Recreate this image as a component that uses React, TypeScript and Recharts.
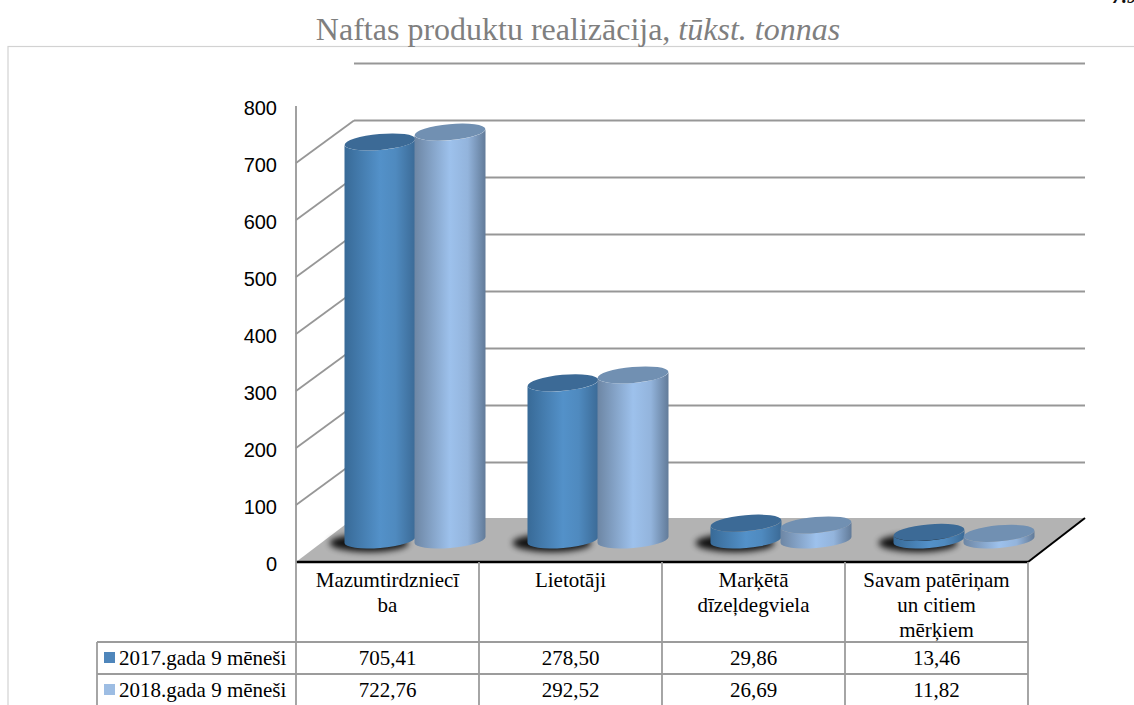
import { BarChart, Bar, XAxis, YAxis, CartesianGrid } from 'recharts'

const categories = ['Mazumtirdzniecība', 'Lietotāji', 'Marķētā dīzeļdegviela', 'Savam patēriņam un citiem mērķiem']
const categoryLines = [
  ['Mazumtirdzniecī', 'ba'],
  ['Lietotāji'],
  ['Marķētā', 'dīzeļdegviela'],
  ['Savam patēriņam', 'un citiem', 'mērķiem'],
]
const series2017 = [705.41, 278.5, 29.86, 13.46]
const series2018 = [722.76, 292.52, 26.69, 11.82]
const labels2017 = ['705,41', '278,50', '29,86', '13,46']
const labels2018 = ['722,76', '292,52', '26,69', '11,82']
const seriesNames = ['2017.gada 9 mēneši', '2018.gada 9 mēneši']
const yTicks = [0, 100, 200, 300, 400, 500, 600, 700, 800]

const data = categories.map((name, i) => ({
  name,
  y2017: series2017[i],
  y2018: series2018[i],
}))

const W = 1134
const H = 705
const FLOOR_Y = 562
const DEPTH_X = 58
const DEPTH_Y = 42.5
const BAND = 183
const LEFT = 296
const RIGHT = 1028
const SERIF = '"Liberation Serif", "Times New Roman", serif'
const TABLE_LINE = '#9c9c9c'
const WALL_LINE = '#979797'
const colors = { a: '#4f86bb', b: '#9dbde3' }

// one grid line: side wall diagonal plus the line on the back wall, the floor sits on the 0 line
const WallLine = ({ y1 }: any) => {
  if (y1 >= FLOOR_Y - 1) {
    return (
      <g>
        <polygon
          points={`${LEFT},${y1} ${RIGHT},${y1} ${RIGHT + DEPTH_X - 1},${y1 - 44} ${LEFT + DEPTH_X},${y1 - 44}`}
          fill="#b3b3b3"
        />
        <line x1={LEFT} y1={y1} x2={RIGHT} y2={y1} stroke="#000" strokeWidth={2.5} />
        <line x1={RIGHT} y1={y1} x2={RIGHT + DEPTH_X - 1} y2={y1 - 44} stroke="#000" strokeWidth={2} />
      </g>
    )
  }
  const isTop = y1 < 110
  return (
    <g>
      {!isTop && <line x1={LEFT} y1={y1} x2={LEFT + DEPTH_X} y2={y1 - DEPTH_Y} stroke={WALL_LINE} strokeWidth={1.8} />}
      <line x1={LEFT + DEPTH_X} y1={y1 - DEPTH_Y} x2={RIGHT + DEPTH_X - 1} y2={y1 - DEPTH_Y} stroke={WALL_LINE} strokeWidth={1.8} />
    </g>
  )
}

const Cylinder = ({ x, width, height, gradient, top, shadow }: any) => {
  const rx = width / 2 + 0.5
  const ry = 8
  const tilt = 3
  const cx = x + width / 2 + 27
  const baseY = FLOOR_Y - 22
  // the picture's perspective makes bars a little shorter than the front scale
  const topY = baseY - height * 0.99
  const body = `M${cx - rx},${topY + tilt} L${cx - rx},${baseY + tilt} A${rx},${ry} -5 0 0 ${cx + rx},${baseY - tilt} L${cx + rx},${topY - tilt} A${rx},${ry} -5 0 1 ${cx - rx},${topY + tilt} Z`
  return (
    <g>
      {shadow && (
        <ellipse cx={cx - 11} cy={baseY + 3} rx={rx + 4} ry={ry + 1} fill="#000" opacity={0.9} filter="url(#baseShadow)" />
      )}
      <path d={body} fill={`url(#${gradient})`} />
      <ellipse cx={cx} cy={topY} rx={rx} ry={ry} fill={top} transform={`rotate(-5 ${cx} ${topY})`} />
    </g>
  )
}

const Shape2017 = (props: any) => <Cylinder {...props} gradient="grad2017" top="#3c6a96" shadow />
const Shape2018 = (props: any) => <Cylinder {...props} gradient="grad2018" top="#7190b2" />

const ValueTick = ({ x, y, payload }: any) => (
  <text x={x} y={y + 9} textAnchor="end" fill="#000" fontSize={20} fontFamily='"Liberation Sans", Arial, sans-serif'>
    {payload.value}
  </text>
)

// category label, table columns and the two value rows under each category
const TableTick = ({ x, payload, index }: any) => {
  const left = x - BAND / 2
  const right = x + BAND / 2
  const lines = categoryLines[index] || [payload.value]
  return (
    <g fontFamily={SERIF} fontSize={21} textAnchor="middle">
      <line x1={left} y1={FLOOR_Y} x2={left} y2={H} stroke={TABLE_LINE} strokeWidth={1.8} />
      {index === categories.length - 1 && (
        <line x1={right} y1={FLOOR_Y} x2={right} y2={H} stroke={TABLE_LINE} strokeWidth={1.8} />
      )}
      {lines.map((t: string, i: number) => (
        <text key={t} x={x} y={587 + i * 25} fill="#000">
          {t}
        </text>
      ))}
      <text x={x} y={665} fill="#000">{labels2017[index]}</text>
      <text x={x} y={697} fill="#000">{labels2018[index]}</text>
    </g>
  )
}

export default function App() {
  return (
    <div style={{ position: 'absolute', left: 0, top: 0, width: W, height: H, overflow: 'hidden', background: '#fff' }}>
      <BarChart
        width={W}
        height={H}
        data={data}
        margin={{ top: 106, right: W - RIGHT, bottom: 0, left: 0 }}
        barSize={70}
        barGap={0}
      >
        <defs>
          <linearGradient id="grad2017" x1="0" y1="0" x2="1" y2="0">
            <stop offset="0%" stopColor="#386a97" />
            <stop offset="50%" stopColor="#5391c9" />
            <stop offset="72%" stopColor="#4f8abf" />
            <stop offset="100%" stopColor="#3b6a96" />
          </linearGradient>
          <linearGradient id="grad2018" x1="0" y1="0" x2="1" y2="0">
            <stop offset="0%" stopColor="#6d86a4" />
            <stop offset="50%" stopColor="#9dc1ec" />
            <stop offset="75%" stopColor="#93b4dc" />
            <stop offset="100%" stopColor="#627b99" />
          </linearGradient>
          <filter id="baseShadow" x="-30%" y="-80%" width="160%" height="260%">
            <feGaussianBlur stdDeviation="3" />
          </filter>
        </defs>
        <rect x={8} y={46.5} width={W} height={H} fill="none" stroke="#d2d2d2" strokeWidth={1.2} />
        <text x={578} y={40} textAnchor="middle" fontFamily={SERIF} fontSize={32} fill="#7f7f7f">
          Naftas produktu realizācija, <tspan fontStyle="italic">tūkst. tonnas</tspan>
        </text>
        <text x={1112} y={3} fontFamily={SERIF} fontSize={20} fontStyle="italic" fontWeight="bold" fill="#111">
          7.9
        </text>
        <CartesianGrid horizontal={WallLine} vertical={false} />
        <XAxis
          dataKey="name"
          height={H - FLOOR_Y}
          interval={0}
          axisLine={false}
          tickLine={false}
          tickSize={0}
          tick={TableTick}
        />
        <YAxis
          width={LEFT}
          domain={[0, 800]}
          ticks={yTicks}
          interval={0}
          axisLine={{ stroke: WALL_LINE, strokeWidth: 1.8 }}
          tickLine={false}
          tickSize={0}
          tickMargin={19}
          tick={ValueTick}
        />
        <Bar dataKey="y2017" fill={colors.a} shape={Shape2017} isAnimationActive={false} />
        <Bar dataKey="y2018" fill={colors.b} shape={Shape2018} isAnimationActive={false} />
        <g stroke={TABLE_LINE} strokeWidth={1.8}>
          <line x1={97} y1={642} x2={RIGHT} y2={642} />
          <line x1={97} y1={674} x2={RIGHT} y2={674} />
          <line x1={97} y1={642} x2={97} y2={H} />
        </g>
        <rect x={104} y={652} width={11} height={11} fill={colors.a} />
        <rect x={104} y={684} width={11} height={11} fill={colors.b} />
        <text x={119} y={665} fontFamily={SERIF} fontSize={21} fill="#000">{seriesNames[0]}</text>
        <text x={119} y={697} fontFamily={SERIF} fontSize={21} fill="#000">{seriesNames[1]}</text>
      </BarChart>
    </div>
  )
}
